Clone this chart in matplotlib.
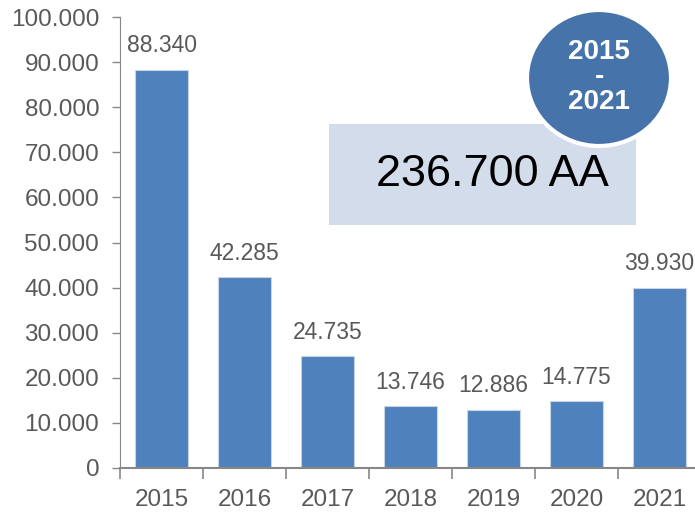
import matplotlib.pyplot as plt
import numpy as np
from matplotlib.patches import Rectangle, Ellipse
from matplotlib.ticker import FuncFormatter

years = ['2015', '2016', '2017', '2018', '2019', '2020', '2021']
values = [88340, 42285, 24735, 13746, 12886, 14775, 39930]
total_label = '236.700 AA'
period_label = '2015\n-\n2021'

def dotted(v, pos=None):
    return f'{int(v):,}'.replace(',', '.')

plt.rcParams['font.family'] = ['Liberation Sans', 'DejaVu Sans']

fig = plt.figure(figsize=(6.95, 5.17), dpi=100)
ax = fig.add_axes([120 / 695, 1 - 468 / 517, 581 / 695, 451 / 517])

x = np.arange(len(years))
bars = ax.bar(x, values, width=0.63, color='#4F81BD', edgecolor='#c9d3e3', linewidth=0.8, zorder=2)

# Data labels
for xi, v in zip(x, values):
    ax.annotate(dotted(v), (xi, v), xytext=(0, 9), textcoords='offset points',
                ha='center', va='bottom', fontsize=16.5, color='#595959')

ax.set_xlim(-0.5, len(years) - 0.5)
ax.set_ylim(0, 100000)
ax.set_yticks(np.arange(0, 100001, 10000))
ax.yaxis.set_major_formatter(FuncFormatter(dotted))

ax.set_xticks(x)
ax.set_xticklabels(years)
ax.set_xticks(np.arange(-0.5, len(years)), minor=True)
ax.tick_params(axis='x', which='major', length=0, pad=15, labelsize=17.5, labelcolor='#595959')
ax.tick_params(axis='x', which='minor', length=8, width=1.2, color='#878787')
ax.tick_params(axis='y', length=6, width=1, color='#878787', labelsize=17.5, labelcolor='#595959', pad=9)

for s in ['top', 'right']:
    ax.spines[s].set_visible(False)
ax.spines['left'].set_color('#878787')
ax.spines['bottom'].set_color('#878787')
ax.spines['bottom'].set_linewidth(1.5)

# Summary box
box = Rectangle((329 / 695, 1 - 225 / 517), 307 / 695, 101 / 517,
                transform=fig.transFigure, facecolor='#D3DCEA', edgecolor='none', zorder=3)
fig.add_artist(box)
fig.text(492 / 695, 1 - 175 / 517, total_label, ha='center', va='center',
         fontsize=32.5, color='black', zorder=4)

# Period circle
circ = Ellipse((599 / 695, 1 - 78 / 517), 144 / 695, 136 / 517, transform=fig.transFigure,
               facecolor='#4674AA', edgecolor='white', linewidth=3, zorder=5)
fig.add_artist(circ)
fig.text(599 / 695, 1 - 77 / 517, period_label, ha='center', va='center', fontsize=20,
         fontweight='bold', color='white', linespacing=0.95, zorder=6)

fig.savefig('out.png', dpi=100)
